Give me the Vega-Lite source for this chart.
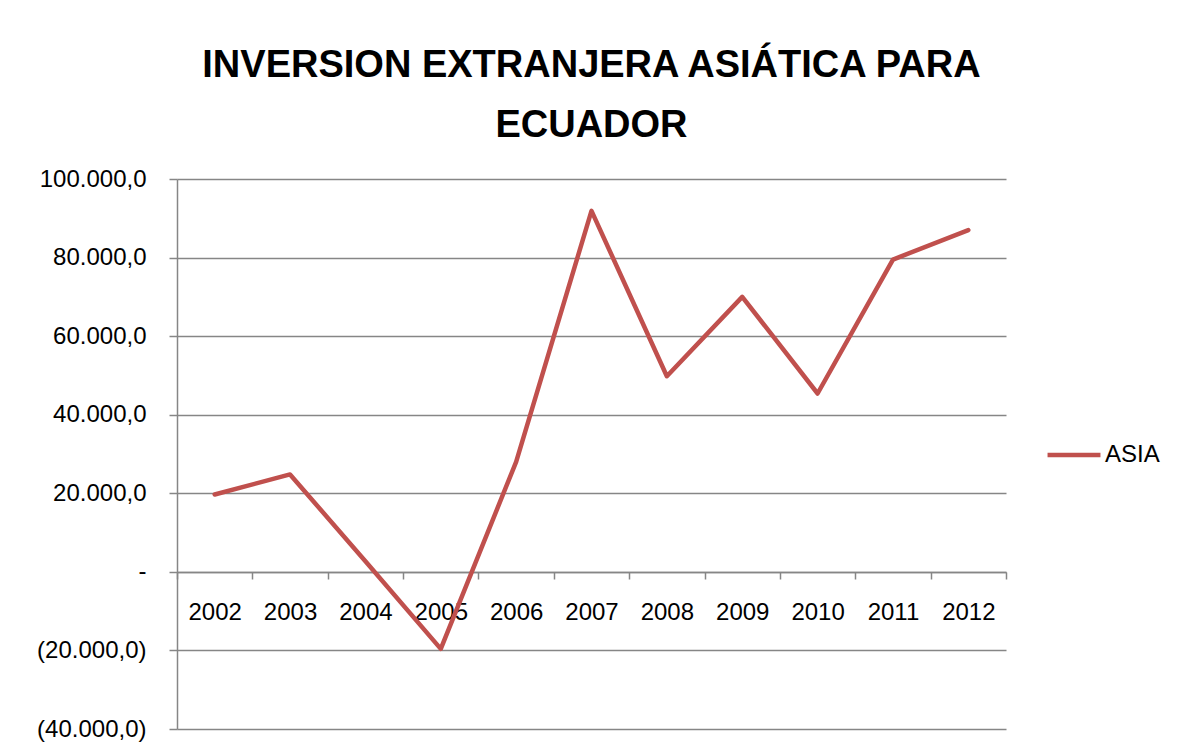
{
  "$schema": "https://vega.github.io/schema/vega-lite/v6.json",
  "autosize": "none",
  "width": 829,
  "height": 550,
  "padding": {"left": 177, "top": 179, "right": 173, "bottom": 20},
  "background": "white",
  "config": {
    "view": {"stroke": null},
    "locale": {"number": {"decimal": ",", "thousands": ".", "grouping": [3], "currency": ["$", ""]}},
    "font": "Liberation Sans"
  },
  "title": {
    "text": ["INVERSION EXTRANJERA ASIÁTICA PARA", "ECUADOR"],
    "font": "Liberation Sans",
    "fontSize": 38,
    "fontWeight": "bold",
    "color": "black",
    "lineHeight": 60,
    "anchor": "middle",
    "baseline": "bottom",
    "offset": -16
  },
  "data": {
    "values": [
      {"anio": "2002", "serie": "ASIA", "valor": 19700},
      {"anio": "2003", "serie": "ASIA", "valor": 24800},
      {"anio": "2004", "serie": "ASIA", "valor": 2700},
      {"anio": "2005", "serie": "ASIA", "valor": -19600},
      {"anio": "2006", "serie": "ASIA", "valor": 28000},
      {"anio": "2007", "serie": "ASIA", "valor": 91900},
      {"anio": "2008", "serie": "ASIA", "valor": 49800},
      {"anio": "2009", "serie": "ASIA", "valor": 70000},
      {"anio": "2010", "serie": "ASIA", "valor": 45400},
      {"anio": "2011", "serie": "ASIA", "valor": 79500},
      {"anio": "2012", "serie": "ASIA", "valor": 87000}
    ]
  },
  "mark": {"type": "line", "strokeWidth": 4.5, "strokeCap": "round", "strokeJoin": "round"},
  "encoding": {
    "x": {
      "field": "anio",
      "type": "ordinal",
      "scale": {"type": "band", "paddingInner": 0, "paddingOuter": 0},
      "axis": {
        "title": null,
        "offset": -157,
        "labelAngle": 0,
        "tickBand": "extent",
        "tickSize": 7,
        "tickColor": "#868686",
        "tickWidth": 1.5,
        "domainColor": "#868686",
        "domainWidth": 1.5,
        "labelFont": "Liberation Sans",
        "labelFontSize": 24,
        "labelColor": "black",
        "labelPadding": 21,
        "grid": false
      }
    },
    "y": {
      "field": "valor",
      "type": "quantitative",
      "scale": {"domain": [-40000, 100000], "nice": false, "zero": false},
      "axis": {
        "title": null,
        "values": [-40000, -20000, 0, 20000, 40000, 60000, 80000, 100000],
        "format": "(,.1f",
        "labelExpr": "datum.value == 0 ? '-\u2002' : (datum.value > 0 ? datum.label + '\u00a0' : datum.label)",
        "grid": true,
        "gridColor": "#868686",
        "gridWidth": 1.5,
        "domainColor": "#868686",
        "domainWidth": 1.5,
        "tickColor": "#868686",
        "tickWidth": 1.5,
        "tickSize": 8,
        "labelFont": "Liberation Sans",
        "labelFontSize": 24,
        "labelColor": "black",
        "labelPadding": 23
      }
    },
    "color": {
      "field": "serie",
      "type": "nominal",
      "scale": {"range": ["#C0504D"]},
      "legend": {
        "title": null,
        "orient": "none",
        "legendX": 868,
        "legendY": 247,
        "symbolType": "stroke",
        "symbolSize": 2800,
        "symbolStrokeWidth": 4.5,
        "labelFont": "Liberation Sans",
        "labelFontSize": 24,
        "labelColor": "black",
        "labelOffset": 2
      }
    }
  }
}
